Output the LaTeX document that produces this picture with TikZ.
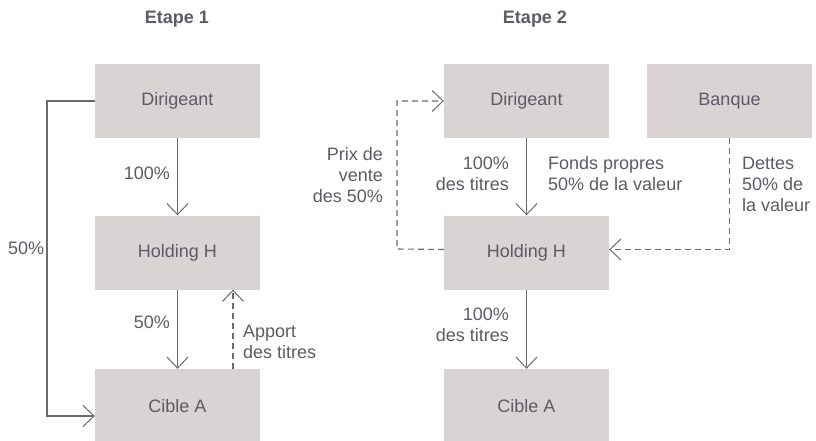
\documentclass[tikz,border=0pt]{standalone}
\usepackage{fontspec}
\setmainfont{Liberation Sans}
\usetikzlibrary{arrows.meta}
\definecolor{boxfill}{HTML}{D9D3D3}
\definecolor{txt}{HTML}{5E5A66}
\definecolor{ln}{HTML}{6B6775}
\begin{document}
\begin{tikzpicture}[x=1pt,y=-1pt,
  box/.style={fill=boxfill,minimum width=165pt,minimum height=74pt,inner sep=0pt,text=txt,font=\fontsize{18}{21}\selectfont},
  lbl/.style={inner sep=0pt,text=txt,font=\fontsize{18}{21}\selectfont},
  ttl/.style={inner sep=0pt,text=txt,font=\fontsize{18}{21}\selectfont\bfseries},
  conn/.style={draw=ln,line width=1.1pt,-{Straight Barb[length=11pt,width=21pt,line width=1pt]}},
  dconn/.style={conn,dash pattern=on 6pt off 4pt}
]
\useasboundingbox (0,0) rectangle (816,441);
% titles
\node[ttl] (t1) at (177,19) {Etape 1};
\node[ttl] (t2) at (535,19) {Etape 2};
% left column
\node[box] (dl) at (177.5,101) {Dirigeant};
\node[box] (lh) at (177.5,252.5) {Holding H};
\node[box] (lc) at (177.5,406) {Cible A};
% right column
\node[box] (rd) at (526.5,101) {Dirigeant};
\node[box] (rb) at (729.5,101) {Banque};
\node[box] (rh) at (526.5,252.5) {Holding H};
\node[box] (rc) at (526.5,406) {Cible A};
% left connectors
\draw[conn] (dl.west) -- (47,101) |- ([yshift=-10pt]lc.west);
\draw[conn] (dl.south) -- (lh.north);
\draw[conn] (lh.south) -- (lc.north);
\draw[dconn] ([xshift=55.5pt]lc.north) -- ([xshift=55.5pt]lh.south);
% right connectors
\draw[dconn] ([yshift=3pt]rh.west) -- (397,249) |- (rd.west);
\draw[conn] (rd.south) -- (rh.north);
\draw[dconn] (rb.south) |- ([yshift=3pt]rh.east);
\draw[conn] (rh.south) -- (rc.north);
% labels left
\node[lbl,anchor=east] (l1) at (170,173) {100\%};
\node[lbl,anchor=east] (l2) at (170,322) {50\%};
\node[lbl,anchor=west] (l3) at (8,248) {50\%};
\node[lbl,anchor=west,align=left] (l4) at (243,342) {Apport\\des titres};
% labels right
\node[lbl,anchor=east,align=right] (r1) at (383,175) {Prix de\\vente\\des 50\%};
\node[lbl,anchor=east,align=right] (r2) at (509,174) {100\%\\des titres};
\node[lbl,anchor=west,align=left] (r3) at (548,174) {Fonds propres\\50\% de la valeur};
\node[lbl,anchor=west,align=left] (r4) at (742,184) {Dettes\\50\% de\\la valeur};
\node[lbl,anchor=east,align=right] (r5) at (509,325) {100\%\\des titres};
\end{tikzpicture}
\end{document}
